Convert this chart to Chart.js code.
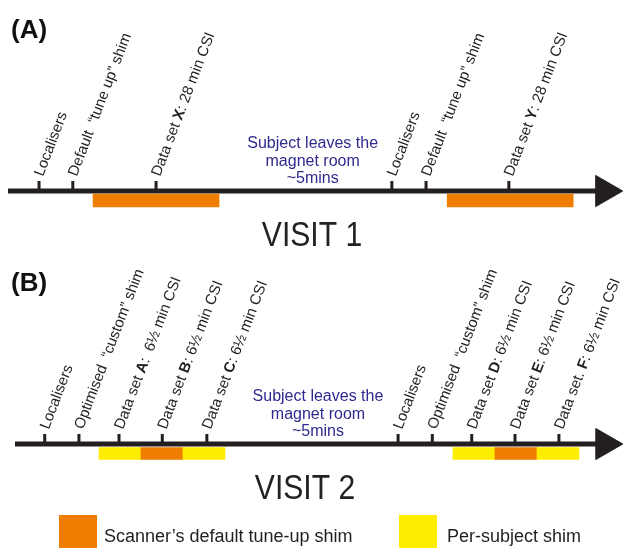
<!DOCTYPE html>
<html>
<head>
<meta charset="utf-8">
<script src="https://cdn.jsdelivr.net/npm/chart.js@4.4.1/dist/chart.umd.min.js"></script>
<style>
    html, body { margin: 0; padding: 0; background: #fff; }
    #wrap { width: 624px; height: 548px; }
</style>
</head>
<body>
<div id="wrap"><canvas id="timeline"></canvas></div>
<script>
// Visit 1 (A) : minutes from start of the session
const visit1Labels = ['Localisers', 'Default  \u201ctune up\u201d shim', 'Data set **X**: 28 min CSI',
    'Localisers', 'Default  \u201ctune up\u201d shim', 'Data set **Y**: 28 min CSI'];
const visit1Times = [6.9, 14.4, 32.9, 85.3, 92.9, 111.3];
const visit1ShimStart = [18.9, 97.6];
const visit1ShimEnd = [46.9, 125.6];
const visit1ShimType = ['default', 'default'];
const visit1End = 132.6;
const visit1Leave = 67.7;

// Visit 2 (B)
const visit2Labels = ['Localisers', 'Optimised  \u201ccustom\u201d shim', 'Data set **A**:  6\u00bd min CSI',
    'Data set **B**: 6\u00bd min CSI', 'Data set **C**: 6\u00bd min CSI',
    'Localisers', 'Optimised  \u201ccustom\u201d shim', 'Data set **D**: 6\u00bd min CSI',
    'Data set **E**: 6\u00bd min CSI', 'Data set. **F**: 6\u00bd min CSI'];
const visit2Times = [4.6, 9.9, 16.1, 22.8, 29.7, 59.3, 64.6, 70.7, 77.4, 84.2];
const visit2ShimStart = [13.0, 19.5, 26.0, 67.8, 74.3, 80.8];
const visit2ShimEnd = [19.5, 26.0, 32.5, 74.3, 80.8, 87.3];
const visit2ShimType = ['subject', 'default', 'subject', 'subject', 'default', 'subject'];
const visit2End = 91.3;
const visit2Leave = 46.9;

const leaveText = ['Subject leaves the', 'magnet room', '~5mins'];
const legendLabels = ['Scanner\u2019s default tune-up shim', 'Per-subject shim'];

const INK = '#231f20';
const BLUE = '#2e2a8e';
const shimColor = { default: '#ef7d00', subject: '#ffed00' };
const FONT = '"Liberation Sans", Arial, sans-serif';

// rows: 1 = visit 1, 2 = visit 2 (reversed axis)
const Y_MIN = 0.245, Y_MAX = 2.411;
const UNIT = (Y_MAX - Y_MIN) / 548;

function lineData(end, row) {
    return [{ x: 0, y: row }, { x: end, y: row }];
}
function tickData(times, row) {
    return times.map(t => ({ x: t, y: row - 5.5 * UNIT }));
}
function shimData(starts, ends, row) {
    return starts.map((s, i) => ({ x: [s, ends[i]], y: row + 9.5 * UNIT }));
}

function drawRich(ctx, text, size) {
    let parts = text.split('**');
    let cx = 0;
    for (let i = 0; i < parts.length; i++) {
        ctx.font = (i % 2 ? 'bold ' : '') + size + 'px ' + FONT;
        ctx.fillText(parts[i], cx, 0);
        cx += ctx.measureText(parts[i]).width;
    }
}

function drawPanel(ctx, xs, lineY, labels, times, leaveAt, title, titleX, letter) {
    ctx.save();
    ctx.fillStyle = INK;
    ctx.textAlign = 'left';
    ctx.textBaseline = 'alphabetic';
    for (let i = 0; i < labels.length; i++) {
        let px = xs.getPixelForValue(times[i]);
        ctx.save();
        ctx.translate(px + 4, lineY - 14);
        ctx.rotate(-69 * Math.PI / 180);
        drawRich(ctx, labels[i], 15);
        ctx.restore();
    }

    // subject leaves the room
    ctx.fillStyle = BLUE;
    ctx.font = '16px ' + FONT;
    ctx.textAlign = 'center';
    let cx = xs.getPixelForValue(leaveAt);
    leaveText.forEach((t, j) => ctx.fillText(t, cx, lineY - 43 + j * 17.5));

    // VISIT title
    ctx.fillStyle = '#222';
    ctx.save();
    ctx.translate(titleX, lineY + 55);
    ctx.scale(0.86, 1);
    ctx.font = '35px ' + FONT;
    ctx.fillText(title, 0, 0);
    ctx.restore();

    // panel letter
    ctx.textAlign = 'left';
    ctx.fillStyle = '#111';
    ctx.font = 'bold 26px ' + FONT;
    ctx.fillText(letter, 11, lineY - 153);
    ctx.restore();
}

const textPlugin = {
    id: 'timelineText',
    afterDatasetsDraw(chart) {
        const ctx = chart.ctx;
        const y = chart.scales.y;
        drawPanel(ctx, chart.scales.xA, y.getPixelForValue(1), visit1Labels, visit1Times, visit1Leave, 'VISIT 1', 312, '(A)');
        drawPanel(ctx, chart.scales.xB, y.getPixelForValue(2), visit2Labels, visit2Times, visit2Leave, 'VISIT 2', 305, '(B)');

        // legend
        ctx.save();
        ctx.font = '18px ' + FONT;
        ctx.textAlign = 'left';
        ctx.fillStyle = shimColor.default;
        ctx.fillRect(59, 515, 38, 33);
        ctx.fillStyle = INK;
        ctx.fillText(legendLabels[0], 104, 542);
        ctx.fillStyle = shimColor.subject;
        ctx.fillRect(399, 515, 38, 33);
        ctx.fillStyle = INK;
        ctx.fillText(legendLabels[1], 447, 542);
        ctx.restore();
    }
};

function axisSets(xid, end, row, times, starts, ends, types, thick) {
    return [
        {
            type: 'bar', xAxisID: xid, yAxisID: 'y', indexAxis: 'y', grouped: false, clip: false,
            data: shimData(starts, ends, row),
            backgroundColor: types.map(t => shimColor[t]),
            barThickness: thick, borderWidth: 0
        },
        {
            type: 'line', xAxisID: xid, yAxisID: 'y', clip: false,
            data: lineData(end, row),
            borderColor: INK, borderWidth: 5, pointRadius: 0, borderCapStyle: 'butt'
        },
        {
            type: 'line', xAxisID: xid, yAxisID: 'y', showLine: false, clip: false,
            data: tickData(times, row),
            pointStyle: 'line', rotation: 90, pointRadius: 4.5,
            pointBorderColor: INK, pointBorderWidth: 3
        },
        {
            type: 'line', xAxisID: xid, yAxisID: 'y', showLine: false, clip: false,
            data: [{ x: end, y: row }],
            pointStyle: 'triangle', rotation: 90, pointRadius: 18,
            pointBackgroundColor: INK, pointBorderColor: INK, pointBorderWidth: 1
        }
    ];
}

let datasets = axisSets('xA', visit1End, 1, visit1Times, visit1ShimStart, visit1ShimEnd, visit1ShimType, 13)
    .concat(axisSets('xB', visit2End, 2, visit2Times, visit2ShimStart, visit2ShimEnd, visit2ShimType, 12));

new Chart(document.getElementById('timeline'), {
    type: 'scatter',
    data: { datasets: datasets },
    options: {
        responsive: true,
        maintainAspectRatio: false,
        animation: false,
        events: [],
        layout: { padding: 0, autoPadding: false },
        datasets: { bar: { indexAxis: 'y' } },
        plugins: { legend: { display: false }, tooltip: { enabled: false } },
        scales: {
            xA: { type: 'linear', axis: 'x', display: false, offset: false, min: -8 / 4.5, max: 616 / 4.5 },
            xB: { type: 'linear', axis: 'x', display: false, offset: false, min: -15 / 6.46, max: 609 / 6.46 },
            y: { type: 'linear', axis: 'y', display: false, offset: false, reverse: true, min: Y_MIN, max: Y_MAX }
        }
    },
    plugins: [textPlugin]
});
</script>
</body>
</html>
